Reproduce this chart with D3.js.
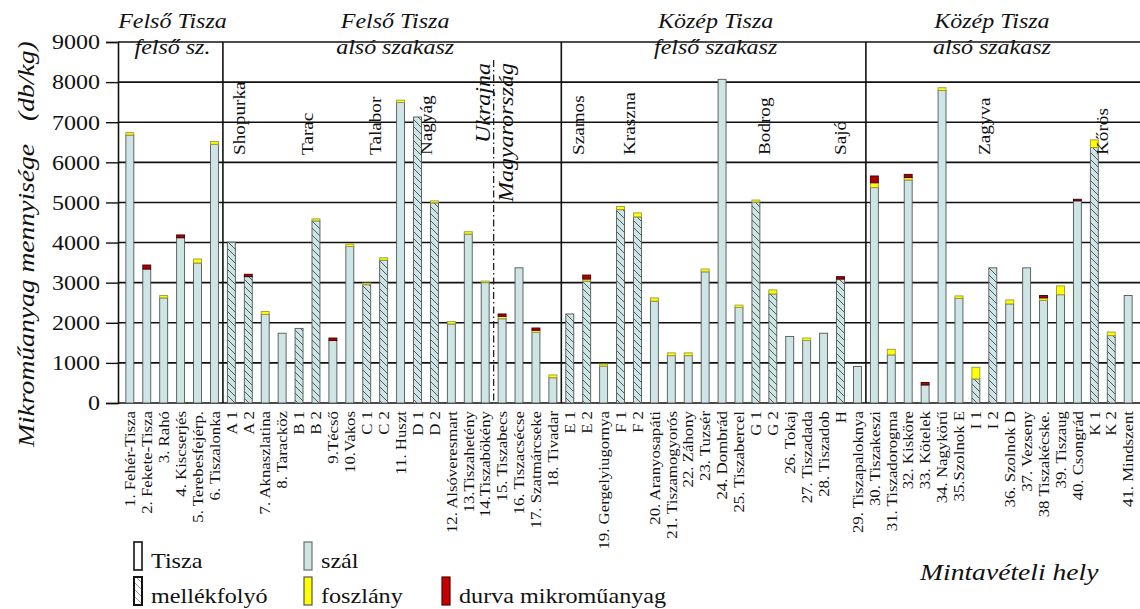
<!DOCTYPE html>
<html>
<head>
<meta charset="utf-8">
<script src="https://cdn.jsdelivr.net/npm/d3@7"></script>
<style>
  html, body { margin: 0; padding: 0; background: #fff; }
  svg { display: block; font-family: "Liberation Serif", "Times New Roman", serif; }
</style>
</head>
<body>
<svg id="chart" width="1140" height="609"></svg>
<script>
// Sampling sites along the Tisza (T) and its tributaries (M), upstream to downstream
const sites = [
  "1. Fehér-Tisza", "2. Fekete-Tisza", "3. Rahó", "4. Kiscserjés", "5. Terebesfejérp.", "6. Tiszalonka",
  "A 1", "A 2", "7. Aknaszlatina", "8. Taracköz", "B 1", "B 2", "9.Técső", "10.Vakos", "C 1", "C 2",
  "11. Huszt", "D 1", "D 2", "12. Alsóveresmart", "13.Tiszahetény", "14.Tiszabökény", "15. Tiszabecs",
  "16. Tiszacsécse", "17. Szatmárcseke", "18. Tivadar",
  "E 1", "E 2", "19. Gergelyiugornya", "F 1", "F 2", "20. Aranyosapáti", "21. Tiszamogyorós", "22. Záhony",
  "23. Tuzsér", "24. Dombrád", "25. Tiszabercel", "G 1", "G 2", "26. Tokaj", "27. Tiszadada", "28. Tiszadob",
  "H", "29. Tiszapaloknya",
  "30. Tiszakeszi", "31. Tiszadorogma", "32. Kisköre", "33. Kötelek", "34. Nagykörű", "35.Szolnok E",
  "I 1", "I 2", "36. Szolnok D", "37. Vezseny", "38 Tiszakécske.", "39. Tiszaug", "40. Csongrád",
  "K 1", "K 2", "41. Mindszent"
];
const siteKind = [
  "T","T","T","T","T","T",
  "M","M","T","T","M","M","T","T","M","M",
  "T","M","M","T","T","T","T",
  "T","T","T",
  "M","M","T","M","M","T","T","T",
  "T","T","T","M","M","T","T","T",
  "M","T",
  "T","T","T","T","T","T",
  "M","M","T","T","T","T","T",
  "M","M","T"
];
// Microplastic amount (db/kg) by type
const szal = [
  6680, 3340, 2620, 4120, 3490, 6450,
  4010, 3150, 2210, 1740, 1860, 4540, 1560, 3900, 2950, 3560,
  7490, 7130, 4990, 1970, 4210, 3000, 2100,
  3370, 1760, 630,
  2220, 3040, 920, 4820, 4640, 2540, 1180, 1180,
  3270, 8070, 2380, 5010, 2720, 1660, 1560, 1740,
  3090, 910,
  5370, 1200, 5560, 450, 7790, 2610,
  600, 3370, 2470, 3370, 2560, 2700, 5040,
  6370, 1680, 2680
];
const foszlany = [
  60, 0, 60, 0, 100, 70,
  0, 0, 70, 0, 0, 50, 0, 60, 40, 60,
  60, 0, 50, 60, 60, 40, 60,
  0, 50, 70,
  0, 50, 50, 80, 100, 80, 70, 70,
  70, 0, 60, 50, 100, 0, 60, 0,
  0, 0,
  120, 140, 60, 0, 70, 60,
  290, 0, 100, 0, 60, 220, 0,
  190, 90, 0
];
const durva = [
  0, 100, 0, 70, 0, 0,
  0, 60, 0, 0, 0, 0, 60, 0, 0, 0,
  0, 0, 0, 0, 0, 0, 60,
  0, 60, 0,
  0, 100, 0, 0, 0, 0, 0, 0,
  0, 0, 0, 0, 0, 0, 0, 0,
  60, 0,
  170, 0, 80, 60, 0, 0,
  0, 0, 0, 0, 60, 0, 40,
  0, 0, 0
];
const yTicks = [0, 1000, 2000, 3000, 4000, 5000, 6000, 7000, 8000, 9000];

// River sections: last site of each section
const sectionEnds = ["6. Tiszalonka", "18. Tivadar", "29. Tiszapaloknya", "41. Mindszent"];
const sectionTitles = [
  ["Felső Tisza", "felső sz."],
  ["Felső Tisza", "alsó szakasz"],
  ["Közép Tisza", "felső szakasz"],
  ["Közép Tisza", "alsó szakasz"]
];
const borderAfter = "14.Tiszabökény";
const tributaryNames = ["Shopurka", "Tarac", "Talabor", "Nagyág", "Szamos", "Kraszna", "Bodrog", "Sajó", "Zagyva", "Kőrös"];
const tributarySites = [
  ["A 1", "A 2"], ["B 1", "B 2"], ["C 1", "C 2"], ["D 1", "D 2"], ["E 1", "E 2"],
  ["F 1", "F 2"], ["G 1", "G 2"], ["H"], ["I 1", "I 2"], ["K 1", "K 2"]
];
const stackKeys = ["szal", "foszlany", "durva"];
const legendKinds = ["Tisza", "mellékfolyó"];
const legendTypes = ["szál", "foszlány", "durva mikroműanyag"];

// ---- drawing ----
const svg = d3.select("#chart");
const plot = { left: 118, right: 1140, top: 42, bottom: 403 };
const STRETCH = 1.2;
const LABEL_STRETCH = 1.12;
const colors = { szal: "#cfe5e5", foszlany: "#ffff00", durva: "#b00000" };
const strokes = { szal: "#4f5757", foszlany: "#9a9a40", durva: "#3a0000" };

const x = d3.scaleBand().domain(sites).range([plot.left, plot.right]).paddingInner(0.53).paddingOuter(0.465);
const y = d3.scaleLinear().domain([0, 9000]).range([plot.bottom, plot.top]);
const cx = s => x(s) + x.bandwidth() / 2;
const between = s => { const i = sites.indexOf(s); return (cx(sites[i]) + cx(sites[i + 1])) / 2; };

// hatch pattern for tributary bars
const defs = svg.append("defs");
function hatch(id, bg, line) {
  const p = defs.append("pattern").attr("id", id).attr("patternUnits", "userSpaceOnUse")
    .attr("width", 7).attr("height", 7);
  p.append("rect").attr("width", 7).attr("height", 7).attr("fill", bg);
  p.append("path").attr("d", "M0,0L7,7M-1,6L1,8M6,-1L8,1")
    .attr("stroke", line).attr("stroke-width", 1);
}
hatch("hatchBar", colors.szal, "#4f5a5a");
hatch("hatchLegend", "#ffffff", "#9a9a9a");

// horizontal grid + frame lines
svg.append("g").selectAll("line").data(yTicks.filter(v => v > 0)).join("line")
  .attr("x1", plot.left).attr("x2", plot.right)
  .attr("y1", d => y(d)).attr("y2", d => y(d))
  .attr("stroke", "#111").attr("stroke-width", 1.6);

// y axis
const yAxis = d3.axisLeft(y).tickValues(yTicks).tickSize(12).tickPadding(6).tickFormat(d3.format("d"));
const gy = svg.append("g").attr("transform", `translate(${plot.left},0)`).call(yAxis);
gy.select(".domain").attr("stroke", "#111").attr("stroke-width", 1.6);
gy.selectAll(".tick line").attr("stroke", "#111").attr("stroke-width", 1.4);
gy.selectAll(".tick text")
  .attr("font-family", "Liberation Serif, serif").attr("font-size", 20).attr("fill", "#111")
  .attr("dy", "0.34em").attr("x", null)
  .attr("transform", `translate(-18,0) scale(${STRETCH},1)`);

// bottom line
svg.append("line").attr("x1", plot.left).attr("x2", plot.right)
  .attr("y1", plot.bottom).attr("y2", plot.bottom).attr("stroke", "#111").attr("stroke-width", 1.6);

// section dividers
const dividers = sectionEnds.slice(0, -1).map(between);
svg.append("g").selectAll("line").data(dividers).join("line")
  .attr("x1", d => d).attr("x2", d => d).attr("y1", plot.top).attr("y2", plot.bottom)
  .attr("stroke", "#111").attr("stroke-width", 1.6);

// national border (dash-dot)
const bx = between(borderAfter);
svg.append("line").attr("x1", bx).attr("x2", bx).attr("y1", 60).attr("y2", plot.bottom)
  .attr("stroke", "#222").attr("stroke-width", 1.3).attr("stroke-dasharray", "7,3,1.5,3");
svg.append("text").attr("transform", `translate(${bx - 4},63) rotate(-90) scale(${STRETCH},1)`)
  .attr("text-anchor", "end").attr("font-style", "italic").attr("font-size", 20).attr("fill", "#111")
  .text("Ukrajna");
svg.append("text").attr("transform", `translate(${bx + 19},63) rotate(-90) scale(${STRETCH},1)`)
  .attr("text-anchor", "end").attr("font-style", "italic").attr("font-size", 20).attr("fill", "#111")
  .text("Magyarország");

// section titles
const bounds = [plot.left, ...dividers, plot.right];
const titleShift = [2, 3, 2, -11];
sectionTitles.forEach((t, i) => {
  const mx = (bounds[i] + bounds[i + 1]) / 2 + titleShift[i];
  t.forEach((line, j) => {
    svg.append("text").attr("transform", `translate(${mx},${28 + j * 26}) scale(${STRETCH},1)`)
      .attr("text-anchor", "middle").attr("font-style", "italic").attr("font-size", 20)
      .attr("fill", "#111").text(line);
  });
});

// stacked bars
const rows = sites.map((s, i) => ({ site: s, kind: siteKind[i], szal: szal[i], foszlany: foszlany[i], durva: durva[i] }));
const series = d3.stack().keys(stackKeys)(rows);
const barG = svg.append("g");
series.forEach(ser => {
  barG.append("g").selectAll("rect").data(ser.filter(d => d[1] > d[0])).join("rect")
    .attr("x", d => x(d.data.site))
    .attr("width", x.bandwidth())
    .attr("y", d => y(d[1]))
    .attr("height", d => y(d[0]) - y(d[1]))
    .attr("fill", d => ser.key === "szal" && d.data.kind === "M" ? "url(#hatchBar)" : colors[ser.key])
    .attr("stroke", strokes[ser.key]).attr("stroke-width", 0.9);
});

// tributary names
tributaryNames.forEach((name, i) => {
  const xs = tributarySites[i].map(cx);
  const mx = d3.mean(xs);
  svg.append("text").attr("transform", `translate(${mx},155) rotate(-90) scale(${STRETCH},1)`)
    .attr("dy", "0.35em").attr("font-size", 16).attr("fill", "#111").text(name);
});

// site labels
svg.append("g").selectAll("text").data(sites).join("text")
  .attr("transform", d => `translate(${cx(d)},411) rotate(-90) scale(${LABEL_STRETCH},1)`)
  .attr("text-anchor", "end").attr("dy", "0.35em").attr("font-size", 15).attr("fill", "#111")
  .text(d => d);

// y title
svg.append("text").attr("transform", `translate(34,447) rotate(-90) scale(${STRETCH},1)`)
  .attr("font-style", "italic").attr("font-size", 23).attr("fill", "#111").text("Mikroműanyag mennyisége");
svg.append("text").attr("transform", `translate(34,121) rotate(-90) scale(${STRETCH},1)`)
  .attr("font-style", "italic").attr("font-size", 23).attr("fill", "#111").text("(db/kg)");

// x title
svg.append("text").attr("transform", `translate(920,580) scale(${STRETCH},1)`)
  .attr("font-style", "italic").attr("font-size", 23).attr("fill", "#111").text("Mintavételi hely");

// legend
const legendItems = [
  { label: legendKinds[0], x: 134, y: 542, fill: "#ffffff", stroke: "#111", sw: 1.6 },
  { label: legendKinds[1], x: 134, y: 577, fill: "url(#hatchLegend)", stroke: "#111", sw: 2 },
  { label: legendTypes[0], x: 304, y: 542, fill: colors.szal, stroke: "#6a7070", sw: 1.2 },
  { label: legendTypes[1], x: 304, y: 577, fill: colors.foszlany, stroke: "#555", sw: 1.2 },
  { label: legendTypes[2], x: 442, y: 577, fill: "#c40000", stroke: "#5a0000", sw: 1.2 }
];
const lg = svg.append("g").selectAll("g").data(legendItems).join("g");
lg.append("rect").attr("x", d => d.x).attr("y", d => d.y).attr("width", 8).attr("height", 28)
  .attr("fill", d => d.fill).attr("stroke", d => d.stroke).attr("stroke-width", d => d.sw);
lg.append("text").attr("transform", d => `translate(${d.x + 17},${d.y + 26}) scale(1.15,1)`)
  .attr("font-size", 21).attr("fill", "#111").text(d => d.label);
</script>
</body>
</html>
